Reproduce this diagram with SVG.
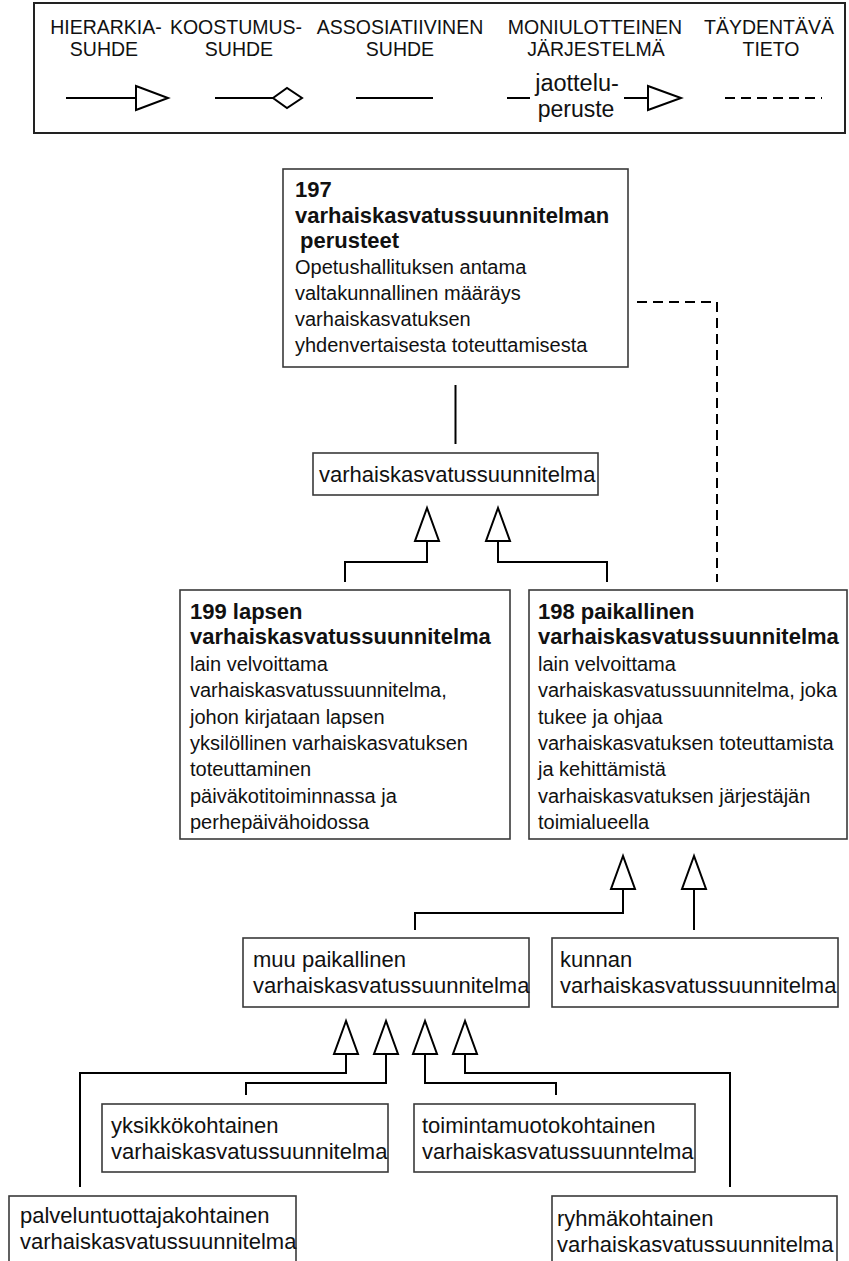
<svg xmlns="http://www.w3.org/2000/svg" width="849" height="1261" viewBox="0 0 849 1261">
<style>
text{font-family:"Liberation Sans",Arial,sans-serif;fill:#111}
.lg{font-size:19.5px;text-anchor:middle}
.b{font-size:22px;font-weight:bold}
.t{font-size:20px}
.m{font-size:22px}
.box{fill:#fff;stroke:#3a3a3a;stroke-width:1.6}
.c{fill:none;stroke:#000;stroke-width:2}
.tri{fill:#fff;stroke:#000;stroke-width:2}
.d{fill:none;stroke:#000;stroke-width:2;stroke-dasharray:10,6}
</style>
<defs>
<polygon id="up" class="tri" points="0,0 -12,33 12,33"/>
</defs>
<g id="legend">
<rect x="34" y="3" width="811" height="130" fill="#fff" stroke="#222" stroke-width="2"/>
<text class="lg" x="106" y="34">HIERARKIA-</text>
<text class="lg" x="104" y="56">SUHDE</text>
<text class="lg" x="236" y="34">KOOSTUMUS-</text>
<text class="lg" x="239" y="56">SUHDE</text>
<text class="lg" x="400" y="34">ASSOSIATIIVINEN</text>
<text class="lg" x="400" y="56">SUHDE</text>
<text class="lg" x="595" y="34">MONIULOTTEINEN</text>
<text class="lg" x="596" y="56">JÄRJESTELMÄ</text>
<text class="lg" x="769" y="34">TÄYDENTÄVÄ</text>
<text class="lg" x="771" y="56">TIETO</text>
<line class="c" x1="66" y1="98" x2="136" y2="98"/>
<polygon class="tri" points="136,86 136,110 168,98"/>
<line class="c" x1="215" y1="98" x2="273" y2="98"/>
<polygon class="tri" points="273,98 287,88 302,98 287,108"/>
<line class="c" x1="356" y1="98" x2="433" y2="98"/>
<line class="c" x1="507" y1="98" x2="530" y2="98"/>
<text x="577" y="91" style="font-size:23.5px;text-anchor:middle">jaottelu-</text>
<text x="576" y="117" style="font-size:23px;text-anchor:middle">peruste</text>
<line class="c" x1="624" y1="98" x2="648" y2="98"/>
<polygon class="tri" points="648,86 648,110 681,98"/>
<line class="d" x1="725" y1="98" x2="822" y2="98"/>
</g>
<g id="connectors">
<line class="c" x1="455.5" y1="385" x2="455.5" y2="444"/>
<path class="d" d="M637,302 H717 V582"/>
<path class="c" d="M427,541 V562 H345 V582"/>
<path class="c" d="M498,541 V562 H607 V582"/>
<use href="#up" x="427" y="508"/>
<use href="#up" x="498" y="508"/>
<path class="c" d="M623,889 V913 H415 V930"/>
<path class="c" d="M694,889 V930"/>
<use href="#up" x="623" y="856"/>
<use href="#up" x="694" y="856"/>
<path class="c" d="M346,1054 V1073 H80 V1187"/>
<path class="c" d="M386,1054 V1083 H246 V1095"/>
<path class="c" d="M425,1054 V1083 H556 V1095"/>
<path class="c" d="M465,1054 V1073 H730 V1187"/>
<use href="#up" x="346" y="1021"/>
<use href="#up" x="386" y="1021"/>
<use href="#up" x="425" y="1021"/>
<use href="#up" x="465" y="1021"/>
</g>
<g id="n197">
<rect class="box" x="283" y="169" width="345" height="198"/>
<text class="b" x="295" y="197">197</text>
<text class="b" x="295" y="223">varhaiskasvatussuunnitelman</text>
<text class="b" x="300" y="248">perusteet</text>
<text class="t" x="295" y="274">Opetushallituksen antama</text>
<text class="t" x="295" y="300">valtakunnallinen määräys</text>
<text class="t" x="295" y="326">varhaiskasvatuksen</text>
<text class="t" x="295" y="352">yhdenvertaisesta toteuttamisesta</text>
</g>
<g id="nvasu">
<rect class="box" x="313" y="453" width="285" height="42"/>
<text class="m" x="319" y="482">varhaiskasvatussuunnitelma</text>
</g>
<g id="n199">
<rect class="box" x="180" y="590" width="330" height="249"/>
<text class="b" x="190" y="619">199 lapsen</text>
<text class="b" x="190" y="644">varhaiskasvatussuunnitelma</text>
<text class="t" x="190" y="671">lain velvoittama</text>
<text class="t" x="190" y="697">varhaiskasvatussuunnitelma,</text>
<text class="t" x="190" y="724">johon kirjataan lapsen</text>
<text class="t" x="190" y="750">yksilöllinen varhaiskasvatuksen</text>
<text class="t" x="190" y="776">toteuttaminen</text>
<text class="t" x="190" y="803">päiväkotitoiminnassa ja</text>
<text class="t" x="190" y="829">perhepäivähoidossa</text>
</g>
<g id="n198">
<rect class="box" x="529" y="590" width="318" height="249"/>
<text class="b" x="538" y="619">198 paikallinen</text>
<text class="b" x="538" y="644">varhaiskasvatussuunnitelma</text>
<text class="t" x="538" y="671">lain velvoittama</text>
<text class="t" x="538" y="697">varhaiskasvatussuunnitelma, joka</text>
<text class="t" x="538" y="724">tukee ja ohjaa</text>
<text class="t" x="538" y="750">varhaiskasvatuksen toteuttamista</text>
<text class="t" x="538" y="776">ja kehittämistä</text>
<text class="t" x="538" y="803">varhaiskasvatuksen järjestäjän</text>
<text class="t" x="538" y="829">toimialueella</text>
</g>
<g id="nmuu">
<rect class="box" x="243" y="938" width="286" height="69"/>
<text class="m" x="253" y="967">muu paikallinen</text>
<text class="m" x="253" y="993">varhaiskasvatussuunnitelma</text>
</g>
<g id="nkunnan">
<rect class="box" x="552" y="938" width="286" height="69"/>
<text class="m" x="560" y="967">kunnan</text>
<text class="m" x="560" y="993">varhaiskasvatussuunnitelma</text>
</g>
<g id="nyksikko">
<rect class="box" x="102" y="1104" width="286" height="68"/>
<text class="m" x="111" y="1133">yksikkökohtainen</text>
<text class="m" x="111" y="1159">varhaiskasvatussuunnitelma</text>
</g>
<g id="ntoiminta">
<rect class="box" x="414" y="1104" width="281" height="68"/>
<text class="m" x="422" y="1133">toimintamuotokohtainen</text>
<text class="m" x="422" y="1159">varhaiskasvatussuunntelma</text>
</g>
<g id="npalvelu">
<rect class="box" x="9" y="1196" width="287" height="75"/>
<text class="m" x="20" y="1223">palveluntuottajakohtainen</text>
<text class="m" x="20" y="1249">varhaiskasvatussuunnitelma</text>
</g>
<g id="nryhma">
<rect class="box" x="552" y="1196" width="285" height="75"/>
<text class="m" x="557" y="1226">ryhmäkohtainen</text>
<text class="m" x="557" y="1252">varhaiskasvatussuunnitelma</text>
</g>
</svg>
